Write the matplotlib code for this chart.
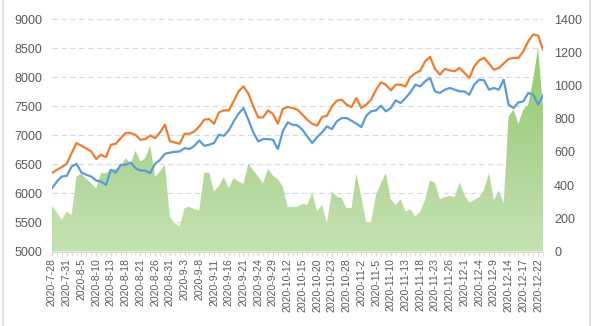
import numpy as np
import matplotlib
matplotlib.use("Agg")
import matplotlib.pyplot as plt
from matplotlib.ticker import FixedLocator, MultipleLocator
from matplotlib.colors import LinearSegmentedColormap

# trading days, 2020-07-28 .. 2020-12-23 (National Day holiday closed)
days_jul = [28, 29, 30, 31]
days_aug = [3, 4, 5, 6, 7, 10, 11, 12, 13, 14, 17, 18, 19, 20, 21, 24, 25, 26, 27, 28, 31]
days_sep = [1, 2, 3, 4, 7, 8, 9, 10, 11, 14, 15, 16, 17, 18, 21, 22, 23, 24, 25, 28, 29, 30]
days_oct = [9, 12, 13, 14, 15, 16, 19, 20, 21, 22, 23, 26, 27, 28, 29, 30]
days_nov = [2, 3, 4, 5, 6, 9, 10, 11, 12, 13, 16, 17, 18, 19, 20, 23, 24, 25, 26, 27, 30]
days_dec = [1, 2, 3, 4, 7, 8, 9, 10, 11, 14, 15, 16, 17, 18, 21, 22, 23]

dates = []
for m, days in zip([7, 8, 9, 10, 11, 12], [days_jul, days_aug, days_sep, days_oct, days_nov, days_dec]):
    dates += ["2020-{}-{}".format(m, d) for d in days]

# orange line (left axis)
upper = [6350, 6405, 6452, 6508, 6693, 6866, 6819, 6773, 6721, 6590,
         6664, 6624, 6836, 6853, 6951, 7038, 7038, 7008, 6922, 6934,
         6996, 6951, 7048, 7181, 6900, 6876, 6853, 7026, 7026, 7066,
         7152, 7267, 7279, 7198, 7393, 7428, 7428, 7583, 7755, 7841,
         7715, 7497, 7307, 7307, 7428, 7365, 7198, 7452, 7486, 7469,
         7440, 7353, 7267, 7198, 7164, 7314, 7336, 7497, 7595, 7612,
         7526, 7486, 7641, 7469, 7526, 7612, 7784, 7910, 7870, 7772,
         7870, 7870, 7841, 8003, 8066, 8110, 8272, 8348, 8141, 8043,
         8141, 8117, 8100, 8158, 8072, 7986, 8186, 8290, 8331, 8233,
         8129, 8158, 8233, 8313, 8331, 8331, 8445, 8617, 8733, 8716, 8474]

# blue line (left axis)
lower = [6089, 6204, 6290, 6302, 6462, 6508, 6359, 6319, 6290, 6221,
         6204, 6147, 6405, 6359, 6491, 6491, 6531, 6434, 6393, 6393,
         6348, 6508, 6577, 6681, 6700, 6715, 6721, 6779, 6762, 6819,
         6910, 6819, 6836, 6866, 7008, 6991, 7083, 7238, 7371, 7469,
         7267, 7048, 6893, 6934, 6934, 6922, 6762, 7066, 7221, 7181,
         7170, 7095, 6980, 6866, 6969, 7048, 7152, 7106, 7238, 7296,
         7296, 7250, 7198, 7141, 7336, 7411, 7428, 7509, 7411, 7469,
         7600, 7555, 7641, 7738, 7870, 7841, 7928, 7986, 7755, 7727,
         7784, 7813, 7784, 7755, 7755, 7698, 7870, 7957, 7945, 7784,
         7813, 7784, 7957, 7526, 7469, 7566, 7583, 7727, 7698, 7526, 7681]

# green area (right axis)
volume = [275, 234, 190, 240, 220, 451, 468, 436, 411, 381,
          472, 472, 496, 496, 512, 562, 528, 606, 542, 562,
          637, 451, 482, 522, 210, 170, 150, 261, 270, 255,
          246, 472, 476, 361, 395, 448, 381, 442, 421, 407,
          528, 488, 451, 411, 496, 456, 436, 391, 270, 268,
          270, 287, 281, 355, 240, 281, 170, 361, 331, 321,
          261, 261, 468, 331, 174, 180, 341, 411, 472, 315,
          281, 315, 240, 255, 212, 240, 311, 427, 415, 315,
          327, 335, 327, 415, 341, 294, 311, 327, 371, 472,
          311, 367, 291, 813, 854, 769, 854, 884, 1035, 1226, 870]

plt.rcParams['font.family'] = ['Liberation Sans', 'DejaVu Sans']
txt = "#595959"
light = "#D9D9D9"

x = np.arange(len(dates))

fig = plt.figure(figsize=(5.99, 3.26), dpi=100)
ax = fig.add_axes([0.0868, 0.2285, 0.8197, 0.7132])
ax2 = ax.twinx()
ax3 = ax.twinx()

# bottom layer: grid + left ticks
ax.set_xlim(0, len(dates) - 1)
ax.set_ylim(5000, 9000)
ax.set_yticks(np.arange(5000, 9001, 500))
ax.grid(axis="y", color=light, lw=0.8, linestyle=(0, (5, 3)))
ax.set_axisbelow(True)

# middle layer: area on right scale, vertical gradient fill
area = ax2.fill_between(x, 0, volume, color="none", lw=0)
greens = LinearSegmentedColormap.from_list("greens", ["#C6E2B3", "#A9D18E", "#8CCB5E"])
grad = ax2.imshow(np.linspace(0, 1, 256).reshape(-1, 1), cmap=greens, origin="lower",
                  aspect="auto", extent=(0, len(dates) - 1, 0, 1400), interpolation="bilinear")
grad.set_clip_path(area.get_paths()[0], transform=ax2.transData)
ax2.set_xlim(0, len(dates) - 1)
ax2.set_ylim(0, 1400)
ax2.set_yticks(np.arange(0, 1401, 200))

# top layer: lines on left scale
ax3.plot(x, upper, color="#ED7D31", lw=1.6, solid_joinstyle="round")
ax3.plot(x, lower, color="#5B9BD5", lw=1.6, solid_joinstyle="round")
ax3.set_ylim(5000, 9000)
ax3.set_yticks([])

for a in (ax, ax2, ax3):
    for s in a.spines.values():
        s.set_visible(False)
    a.tick_params(axis="y", length=0, colors=txt, labelsize=9)
ax.tick_params(axis="y", pad=7)
ax2.tick_params(axis="y", pad=8)
ax.spines["bottom"].set_visible(True)
ax.spines["bottom"].set_color(light)
ax.spines["bottom"].set_zorder(0)

ax.xaxis.set_major_locator(FixedLocator(x[::3]))
ax.set_xticklabels(dates[::3], rotation=90, fontsize=7.6, color=txt)
ax.xaxis.set_minor_locator(MultipleLocator(1))
ax.tick_params(axis="x", which="both", length=3, color=light, pad=2)

# chart frame
fig.add_artist(plt.Line2D([0.005, 0.005], [0, 1], color=light, lw=1.2, transform=fig.transFigure))
fig.add_artist(plt.Line2D([0.985, 0.985], [0, 1], color=light, lw=1.2, transform=fig.transFigure))

fig.savefig("out.png", dpi=100)
